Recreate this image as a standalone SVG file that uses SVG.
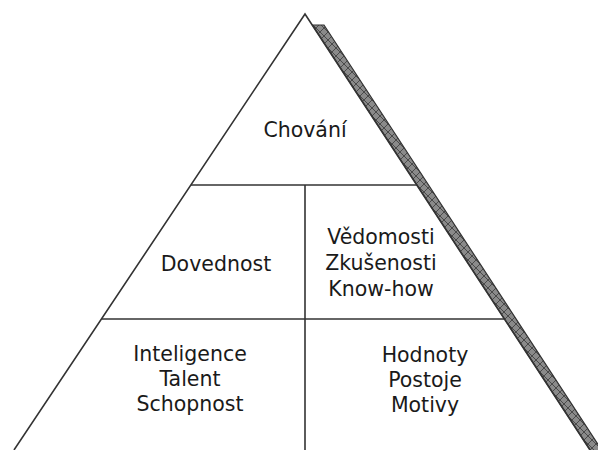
<svg xmlns="http://www.w3.org/2000/svg" width="598" height="450" viewBox="0 0 598 450">
<style>
.ln{stroke:#333;stroke-width:1.6;fill:none}
.t{font-family:"DejaVu Sans","Verdana",sans-serif;font-size:20.5px;fill:#1a1a1a;text-anchor:middle}
</style>
<defs>
<pattern id="hatch" patternUnits="userSpaceOnUse" width="8" height="8">
<rect width="8" height="8" fill="#8a8a8a"/>
<path d="M0 0L8 8M8 0L0 8" stroke="#4a4a4a" stroke-width="1"/>
</pattern>
</defs>
<rect width="598" height="450" fill="#fff"/>
<g id="shadow">
<polygon points="312.5,25 324,25 603,452 591.5,452" fill="url(#hatch)" stroke="#333" stroke-width="1.2"/>
</g>
<g id="connectors">
<polyline class="ln" points="14,450 305,14 590,450"/>
<line class="ln" x1="191" y1="185" x2="417" y2="185"/>
<line class="ln" x1="102" y1="319" x2="505" y2="319"/>
<line class="ln" x1="305" y1="185" x2="305" y2="450"/>
</g>
<g id="chovani"><text class="t" x="305" y="137">Chování</text></g>
<g id="dovednost"><text class="t" x="216" y="271">Dovednost</text></g>
<g id="vedomosti"><text class="t" x="381" y="244">Vědomosti</text><text class="t" x="381" y="270">Zkušenosti</text><text class="t" x="381" y="296">Know-how</text></g>
<g id="inteligence"><text class="t" x="190" y="361">Inteligence</text><text class="t" x="190" y="386">Talent</text><text class="t" x="190" y="411">Schopnost</text></g>
<g id="hodnoty"><text class="t" x="425" y="362">Hodnoty</text><text class="t" x="425" y="387">Postoje</text><text class="t" x="425" y="412">Motivy</text></g>
</svg>
